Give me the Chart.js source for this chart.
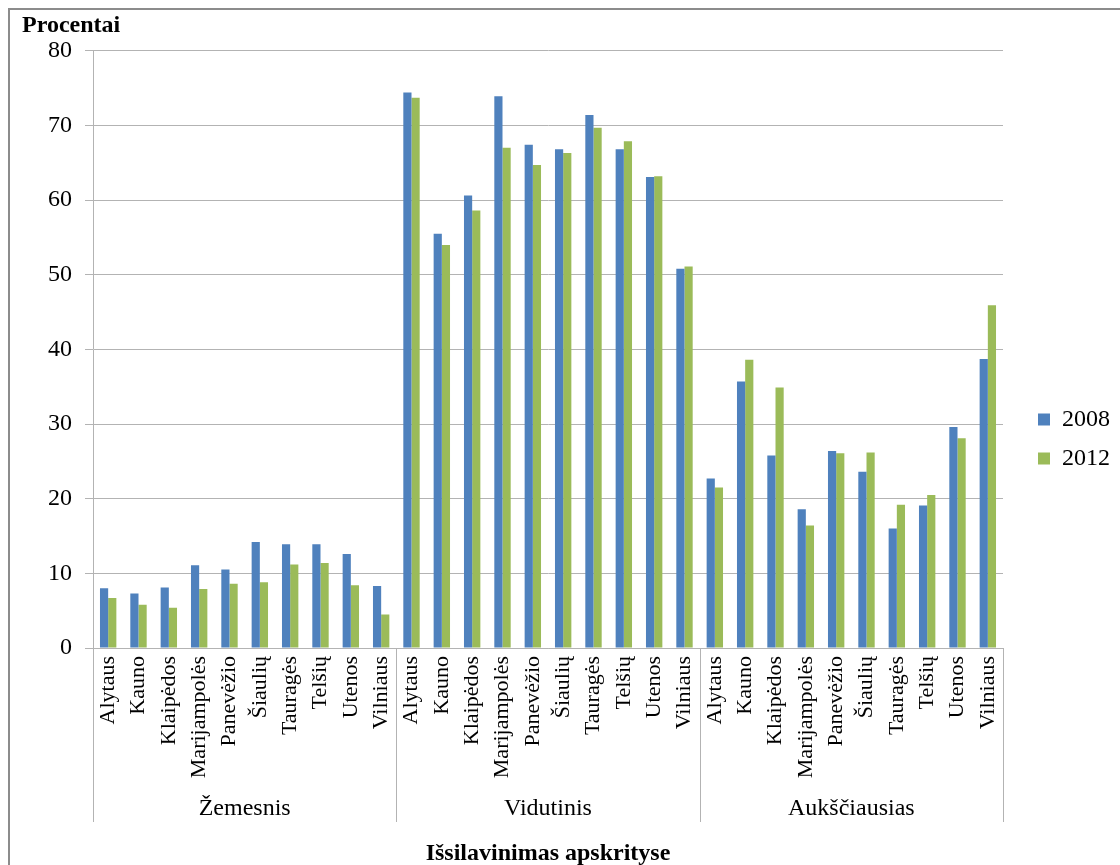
<!DOCTYPE html>
<html>
<head>
<meta charset="utf-8">
<script src="https://cdn.jsdelivr.net/npm/chart.js@4"></script>
<style>
  body { margin: 0; background: #fff; overflow: hidden; }
  #wrap { position: absolute; left: 8px; top: 8px; width: 1110px; height: 858px;
          border-left: 2px solid #8c8c8c; border-top: 2px solid #8c8c8c; }
</style>
</head>
<body>
<div id="wrap"><canvas id="chart" width="1110" height="858"></canvas></div>
<script>
const regions = ["Alytaus","Kauno","Klaipėdos","Marijampolės","Panevėžio","Šiaulių","Tauragės","Telšių","Utenos","Vilniaus"];
const groups = ["Žemesnis","Vidutinis","Aukščiausias"];

// 2008
const low2008  = [8.0, 7.3, 8.1, 11.1, 10.5, 14.2, 13.9, 13.9, 12.6, 8.3];
const mid2008  = [74.4, 55.5, 60.6, 73.9, 67.4, 66.8, 71.4, 66.8, 63.1, 50.8];
const high2008 = [22.7, 35.7, 25.8, 18.6, 26.4, 23.6, 16.0, 19.1, 29.6, 38.7];
// 2012
const low2012  = [6.7, 5.8, 5.4, 7.9, 8.6, 8.8, 11.2, 11.4, 8.4, 4.5];
const mid2012  = [73.7, 54.0, 58.6, 67.0, 64.7, 66.3, 69.7, 67.9, 63.2, 51.1];
const high2012 = [21.5, 38.6, 34.9, 16.4, 26.1, 26.2, 19.2, 20.5, 28.1, 45.9];

const labels = [...regions, ...regions, ...regions];
const serif = "'Liberation Serif', 'Times New Roman', serif";
const gridColor = "#b3b3b3";

// group labels and separators under the region names
const groupAxis = {
    id: "groupAxis",
    afterDraw(chart){
        const ctx = chart.ctx;
        const x = chart.scales.x;
        const ca = chart.chartArea;
        const n = regions.length;
        const bounds = [ca.left];
        for(let g=1; g<groups.length; g++){
            bounds.push((x.getPixelForTick(g*n-1) + x.getPixelForTick(g*n)) / 2);
        }
        bounds.push(ca.right);

        ctx.save();
        ctx.strokeStyle = gridColor;
        ctx.lineWidth = 1;
        bounds.forEach(b=>{
            const px = Math.round(b) + 0.5;
            ctx.beginPath();
            ctx.moveTo(px, ca.bottom);
            ctx.lineTo(px, ca.bottom + 174);
            ctx.stroke();
        });
        ctx.fillStyle = "#000";
        ctx.font = "24px " + serif;
        ctx.textAlign = "center";
        ctx.textBaseline = "middle";
        groups.forEach((g,i)=>{
            ctx.fillText(g, (bounds[i] + bounds[i+1]) / 2, ca.bottom + 161);
        });
        ctx.restore();
    }
};

new Chart(document.getElementById("chart"), {
    type: "bar",
    data: {
        labels: labels,
        datasets: [
            { label: "2008", data: [...low2008, ...mid2008, ...high2008], backgroundColor: "#4F81BD" },
            { label: "2012", data: [...low2012, ...mid2012, ...high2012], backgroundColor: "#9BBB59" }
        ]
    },
    options: {
        responsive: false,
        animation: false,
        layout: { padding: { left: 12, right: 0, top: 0, bottom: 0 } },
        datasets: { bar: { categoryPercentage: 0.54, barPercentage: 1.0 } },
        plugins: {
            title: {
                display: true,
                text: "Procentai",
                align: "start",
                color: "#000",
                font: { family: serif, size: 24, weight: "bold" },
                padding: { top: 1, bottom: 11 }
            },
            legend: {
                position: "right",
                align: "center",
                labels: {
                    color: "#000",
                    font: { family: serif, size: 24 },
                    boxWidth: 12,
                    boxHeight: 12,
                    padding: 15
                }
            },
            tooltip: { enabled: false }
        },
        scales: {
            x: {
                grid: { display: false, drawTicks: false },
                border: { display: true, color: gridColor },
                ticks: {
                    autoSkip: false,
                    minRotation: 90,
                    maxRotation: 90,
                    padding: 8,
                    color: "#000",
                    font: { family: serif, size: 22 }
                },
                title: {
                    display: true,
                    text: "Išsilavinimas apskrityse",
                    color: "#000",
                    font: { family: serif, size: 24, weight: "bold" },
                    padding: { top: 0, bottom: 0 }
                },
                afterFit: s => { s.height = 220; }
            },
            y: {
                min: 0,
                max: 80,
                ticks: {
                    stepSize: 10,
                    padding: 13,
                    color: "#000",
                    font: { family: serif, size: 24 }
                },
                grid: { color: gridColor, tickLength: 8 },
                border: { color: gridColor },
                afterFit: s => { s.width = 71; }
            },
            spacer: {
                position: "right",
                display: true,
                grid: { display: false, drawTicks: false },
                border: { display: false },
                ticks: { display: false },
                afterFit: s => { s.width = 20; }
            }
        }
    },
    plugins: [groupAxis]
});
</script>
</body>
</html>
